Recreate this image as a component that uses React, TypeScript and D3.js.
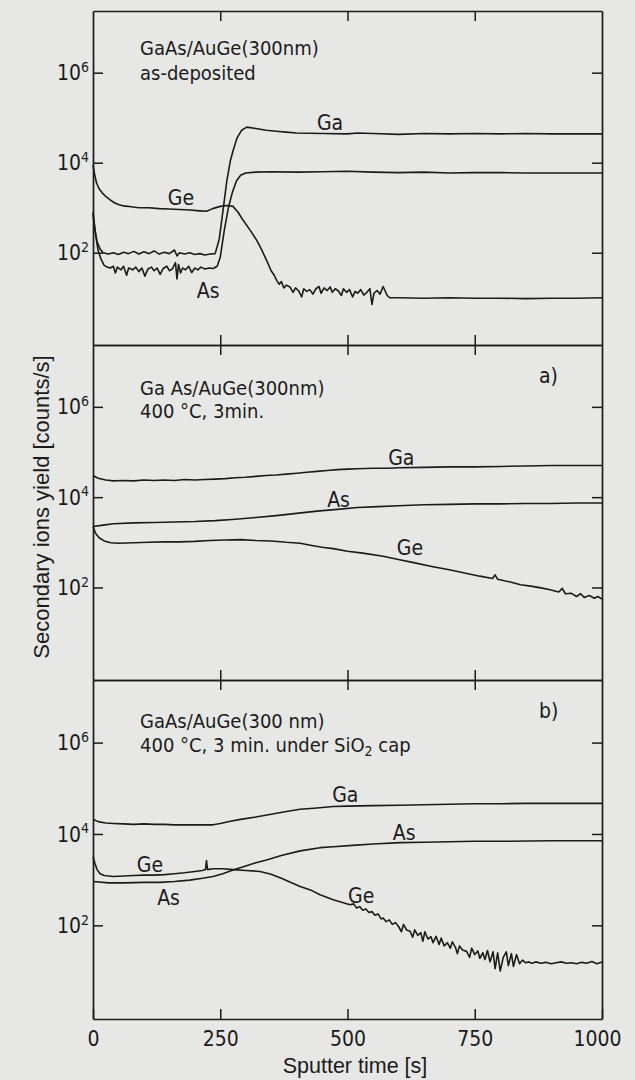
import React, {useEffect, useRef} from 'react';
import * as d3 from 'd3';

// sputter time [s] vs log10(counts/s)
const gaDep = [
  [0, 2.85], [4, 2.5], [8, 2.25], [14, 2.08], [20, 2.0], [30, 1.97], [40, 2.0], [50, 1.96], [60, 2.01],
  [70, 1.98], [80, 2.03], [90, 1.97], [100, 2.02], [110, 1.98], [120, 2.04], [130, 1.97], [140, 2.01],
  [150, 1.98], [160, 2.06], [165, 1.93], [170, 2.0], [180, 1.97], [190, 2.0], [200, 1.96], [210, 1.98],
  [220, 1.95], [230, 1.97], [240, 1.98], [248, 2.3], [255, 2.9], [263, 3.6], [270, 4.05], [276, 4.3],
  [283, 4.55], [292, 4.72], [302, 4.79], [320, 4.76], [340, 4.72], [360, 4.7], [380, 4.68], [400, 4.66],
  [450, 4.65], [500, 4.64], [520, 4.66], [550, 4.65], [600, 4.63], [650, 4.65], [700, 4.64], [750, 4.65],
  [800, 4.64], [850, 4.65], [900, 4.64], [950, 4.64], [1000, 4.64]
];
const asDep = [
  [0, 2.9], [5, 2.4], [10, 2.05], [16, 1.85], [22, 1.72], [28, 1.68], [34, 1.66], [40, 1.7], [44, 1.55],
  [48, 1.68], [55, 1.62], [60, 1.7], [66, 1.5], [70, 1.66], [78, 1.62], [84, 1.68], [90, 1.58], [96, 1.66],
  [102, 1.48], [108, 1.64], [115, 1.68], [120, 1.6], [126, 1.66], [132, 1.52], [138, 1.65], [145, 1.7],
  [150, 1.6], [156, 1.64], [162, 1.78], [165, 1.42], [168, 1.74], [172, 1.55], [176, 1.66], [182, 1.62],
  [188, 1.7], [194, 1.56], [200, 1.66], [206, 1.62], [212, 1.68], [220, 1.64], [228, 1.66], [236, 1.65],
  [244, 1.7], [250, 1.9], [258, 2.5], [266, 3.0], [274, 3.35], [282, 3.6], [290, 3.72], [300, 3.77],
  [320, 3.79], [350, 3.8], [400, 3.79], [450, 3.8], [500, 3.81], [550, 3.79], [600, 3.78], [650, 3.79],
  [700, 3.77], [750, 3.78], [800, 3.78], [850, 3.77], [900, 3.77], [950, 3.77], [1000, 3.77]
];
const geDep = [
  [0, 3.95], [3, 3.75], [7, 3.55], [12, 3.42], [18, 3.33], [25, 3.25], [33, 3.18], [42, 3.11], [50, 3.07],
  [60, 3.04], [75, 3.02], [90, 3.0], [110, 3.0], [130, 2.98], [150, 2.97], [170, 2.96], [190, 2.95],
  [210, 2.93], [223, 2.92], [235, 2.98], [250, 3.03], [263, 3.05], [275, 3.03], [285, 2.9], [295, 2.72],
  [310, 2.48], [322, 2.27], [332, 2.05], [341, 1.83], [350, 1.6], [356, 1.5], [361, 1.38], [366, 1.3],
  [370, 1.36], [375, 1.22], [380, 1.28], [387, 1.24], [393, 1.12], [398, 1.22], [404, 1.15], [410, 1.02],
  [414, 1.2], [420, 1.14], [426, 1.18], [432, 1.08], [438, 1.2], [444, 1.25], [448, 1.1], [454, 1.22],
  [460, 1.16], [466, 1.24], [470, 1.12], [476, 1.2], [482, 1.15], [488, 1.05], [492, 1.2], [498, 1.12],
  [504, 1.18], [510, 1.02], [515, 1.14], [520, 1.1], [526, 1.18], [532, 1.06], [538, 1.12], [544, 1.2],
  [548, 0.85], [552, 1.1], [558, 1.16], [564, 1.08], [570, 1.25], [574, 1.15], [578, 1.05], [583, 1.0],
  [600, 1.0], [650, 0.99], [700, 1.0], [750, 0.99], [800, 0.99], [850, 0.98], [900, 0.99], [950, 0.99],
  [1000, 1.0]
];

const gaAnn = [
  [0, 4.48], [10, 4.42], [25, 4.38], [40, 4.36], [60, 4.37], [80, 4.36], [100, 4.38], [120, 4.37],
  [140, 4.38], [160, 4.37], [180, 4.39], [200, 4.38], [220, 4.39], [240, 4.4], [260, 4.41], [280, 4.43],
  [300, 4.44], [320, 4.46], [340, 4.48], [360, 4.49], [380, 4.51], [400, 4.53], [420, 4.55], [440, 4.57],
  [460, 4.59], [480, 4.61], [500, 4.62], [520, 4.63], [550, 4.64], [580, 4.64], [600, 4.65], [650, 4.66],
  [700, 4.67], [750, 4.67], [800, 4.68], [850, 4.69], [900, 4.7], [950, 4.7], [1000, 4.7]
];
const asAnn = [
  [0, 3.35], [20, 3.38], [40, 3.41], [80, 3.43], [120, 3.44], [160, 3.45], [200, 3.46], [240, 3.48],
  [280, 3.51], [320, 3.55], [360, 3.59], [400, 3.64], [440, 3.69], [480, 3.73], [520, 3.77], [560, 3.79],
  [600, 3.81], [650, 3.83], [700, 3.84], [750, 3.85], [800, 3.85], [850, 3.86], [900, 3.86], [950, 3.87],
  [1000, 3.87]
];
const geAnn = [
  [0, 3.35], [5, 3.2], [12, 3.1], [22, 3.03], [35, 2.99], [50, 2.98], [80, 2.99], [110, 3.0], [140, 3.01],
  [170, 3.01], [200, 3.02], [230, 3.04], [260, 3.05], [290, 3.06], [320, 3.04], [350, 3.03], [380, 3.0],
  [407, 2.98], [430, 2.93], [450, 2.89], [472, 2.86], [500, 2.8], [530, 2.76], [570, 2.69], [600, 2.62],
  [630, 2.55], [668, 2.46], [700, 2.39], [730, 2.32], [760, 2.25], [785, 2.2], [790, 2.28], [795, 2.18],
  [820, 2.12], [840, 2.06], [860, 2.03], [880, 1.99], [898, 1.95], [915, 1.9], [922, 1.98], [928, 1.86],
  [940, 1.87], [950, 1.8], [958, 1.86], [965, 1.78], [975, 1.82], [985, 1.76], [992, 1.8], [1000, 1.74]
];

const gaCap = [
  [0, 4.32], [10, 4.27], [25, 4.24], [40, 4.23], [60, 4.22], [80, 4.21], [100, 4.22], [120, 4.21],
  [140, 4.21], [160, 4.2], [180, 4.2], [200, 4.2], [220, 4.2], [236, 4.2], [250, 4.23], [270, 4.28],
  [290, 4.32], [320, 4.37], [350, 4.43], [380, 4.49], [407, 4.54], [440, 4.57], [472, 4.6], [500, 4.61],
  [550, 4.62], [603, 4.63], [650, 4.64], [700, 4.65], [750, 4.66], [800, 4.66], [850, 4.67], [900, 4.67],
  [950, 4.67], [1000, 4.67]
];
const asCap = [
  [0, 2.96], [30, 2.93], [60, 2.93], [100, 2.94], [131, 2.94], [160, 2.96], [190, 2.99], [215, 3.03],
  [236, 3.07], [255, 3.13], [275, 3.21], [300, 3.3], [320, 3.37], [341, 3.43], [370, 3.53], [407, 3.63],
  [446, 3.7], [472, 3.72], [510, 3.75], [550, 3.78], [603, 3.81], [650, 3.82], [700, 3.83], [750, 3.84],
  [800, 3.84], [900, 3.85], [1000, 3.85]
];
const geCap = [
  [0, 3.5], [4, 3.35], [8, 3.22], [14, 3.13], [22, 3.09], [40, 3.07], [60, 3.08], [80, 3.09], [100, 3.1],
  [120, 3.1], [140, 3.11], [160, 3.13], [180, 3.15], [200, 3.18], [215, 3.2], [221, 3.22], [223, 3.42],
  [225, 3.22], [236, 3.24], [255, 3.24], [275, 3.22], [300, 3.2], [328, 3.18], [350, 3.12], [370, 3.03],
  [390, 2.93], [407, 2.85], [430, 2.76], [446, 2.67], [472, 2.56], [490, 2.5], [505, 2.45], [512, 2.47],
  [518, 2.38], [524, 2.41], [530, 2.33], [536, 2.36], [542, 2.28], [548, 2.3], [554, 2.22], [560, 2.25],
  [566, 2.14], [570, 2.16], [576, 2.08], [582, 2.12], [588, 2.02], [594, 2.06], [600, 1.98], [606, 1.86],
  [610, 2.02], [616, 1.9], [623, 1.87], [628, 1.74], [632, 1.9], [638, 1.78], [644, 1.84], [648, 1.65],
  [652, 1.86], [658, 1.7], [664, 1.75], [668, 1.62], [674, 1.76], [680, 1.58], [684, 1.72], [690, 1.55],
  [696, 1.62], [702, 1.5], [706, 1.64], [712, 1.52], [716, 1.38], [720, 1.55], [726, 1.46], [734, 1.43],
  [740, 1.3], [744, 1.5], [750, 1.36], [756, 1.44], [760, 1.28], [766, 1.4], [770, 1.25], [775, 1.45],
  [780, 1.2], [786, 1.42], [790, 1.05], [795, 1.4], [800, 1.0], [806, 1.3], [812, 1.42], [816, 1.12],
  [822, 1.38], [826, 1.1], [832, 1.36], [838, 1.16], [844, 1.24], [850, 1.18], [856, 1.2], [862, 1.17],
  [870, 1.2], [880, 1.17], [890, 1.19], [900, 1.16], [910, 1.18], [920, 1.2], [930, 1.17], [940, 1.18],
  [950, 1.16], [960, 1.19], [970, 1.17], [980, 1.21], [990, 1.16], [1000, 1.2]
];

const xTicks = [0, 250, 500, 750, 1000];
const yTickExps = [2, 4, 6];

// one entry per panel: curves, curve labels [text, t, exp], caption lines, panel letter
const panelSeries = [[gaDep, asDep, geDep], [gaAnn, asAnn, geAnn], [gaCap, asCap, geCap]];
const panelLabels = [
  [['Ga', 440, 4.72], ['Ge', 147, 3.07], ['As', 204, 0.99]],
  [['Ga', 580, 4.71], ['As', 460, 3.78], ['Ge', 597, 2.72]],
  [['Ga', 470, 4.7], ['As', 589, 3.87], ['Ge', 501, 2.49], ['Ge', 86, 3.17], ['As', 126, 2.45]]
];
const panelCaptions = [
  ['GaAs/AuGe(300nm)', 'as-deposited'],
  ['Ga As/AuGe(300nm)', '400 °C, 3min.'],
  ['GaAs/AuGe(300 nm)', '400 °C, 3 min. under SiO|2| cap']
];
const panelLetters = ['', 'a)', 'b)'];

const W = 635;
const H = 1080;
const left = 93;
const right = 602;
const tops = [11, 345, 680];
const bottoms = [345, 680, 1019];
const captionY = [[55, 80], [395, 418], [728, 752]];
const ink = '#1b1b1b';
const dinFont = '"DejaVu Sans Condensed", "DejaVu Sans", sans-serif';
const plainFont = '"Liberation Sans", Arial, sans-serif';

function App() {
  const ref = useRef(null);

  useEffect(() => {
    const svg = d3.select(ref.current);
    svg.selectAll('*').remove();

    svg.append('rect').attr('width', W).attr('height', H).attr('fill', '#e7e7e5');

    const x = d3.scaleLinear().domain([0, 1000]).range([left, right]);

    panelSeries.forEach((series, i) => {
      const y = d3.scaleLog()
        .domain([Math.pow(10, -0.05), Math.pow(10, 7.37)])
        .range([bottoms[i], tops[i]]);
      const g = svg.append('g');

      const axes = [
        {ax: d3.axisBottom(x).tickValues(i === 2 ? xTicks : [250, 500, 750]), tr: `translate(0,${bottoms[i]})`},
        {ax: d3.axisTop(x).tickValues([250, 500, 750]).tickFormat(() => ''), tr: `translate(0,${tops[i]})`},
        {ax: d3.axisLeft(y).tickValues(yTickExps.map(e => Math.pow(10, e))), tr: `translate(${left},0)`},
        {ax: d3.axisRight(y).tickValues(yTickExps.map(e => Math.pow(10, e))).tickFormat(() => ''), tr: `translate(${right},0)`}
      ];
      axes.forEach(({ax, tr}, k) => {
        ax.tickSizeInner(-10).tickSizeOuter(0);
        if (k === 0) ax.tickPadding(12).tickFormat(i === 2 ? d3.format('d') : () => '');
        if (k === 2) ax.tickFormat(() => '');
        const a = g.append('g').attr('transform', tr).call(ax as any);
        a.select('.domain').attr('stroke', ink).attr('stroke-width', 1.7);
        a.selectAll('.tick line').attr('stroke', ink).attr('stroke-width', 1.5);
        a.selectAll('text').attr('fill', ink).attr('font-family', dinFont).attr('font-size', 21);
        if (k === 0 && i === 2) {
          a.selectAll('.tick text').filter((d: any) => d === 1000).attr('dx', -5);
        }
      });

      // left tick labels as 10^n
      yTickExps.forEach(e => {
        const t = g.append('text')
          .attr('x', left - 4)
          .attr('y', y(Math.pow(10, e)))
          .attr('dy', '0.36em')
          .attr('text-anchor', 'end')
          .attr('font-family', dinFont)
          .attr('font-size', 21)
          .attr('fill', ink);
        t.append('tspan').text('10');
        t.append('tspan').attr('font-size', 14).attr('dy', '-0.6em').text(String(e));
      });

      const line = d3.line()
        .x((d: any) => x(d[0]))
        .y((d: any) => y(Math.pow(10, d[1])));

      series.forEach(s => {
        g.append('path')
          .datum(s)
          .attr('d', line as any)
          .attr('fill', 'none')
          .attr('stroke', ink)
          .attr('stroke-width', 1.6)
          .attr('stroke-linejoin', 'round');
      });

      panelLabels[i].forEach(([txt, t, e]: any) => {
        g.append('text')
          .attr('x', x(t))
          .attr('y', y(Math.pow(10, e)))
          .attr('font-family', dinFont)
          .attr('font-size', 21)
          .attr('fill', ink)
          .text(txt);
      });

      panelCaptions[i].forEach((cap, j) => {
        const t = g.append('text')
          .attr('x', 140)
          .attr('y', captionY[i][j])
          .attr('font-family', dinFont)
          .attr('font-size', 20)
          .attr('fill', ink);
        cap.split('|').forEach((part, p) => {
          if (p % 2 === 1) {
            t.append('tspan').attr('font-size', 14).attr('dy', '0.3em').text(part);
          } else {
            t.append('tspan').attr('dy', p > 0 ? '-0.21em' : null).text(part);
          }
        });
      });

      if (panelLetters[i]) {
        g.append('text')
          .attr('x', 539)
          .attr('y', tops[i] + 38)
          .attr('font-family', dinFont)
          .attr('font-size', 21)
          .attr('fill', ink)
          .text(panelLetters[i]);
      }
    });

    svg.append('text')
      .attr('transform', 'translate(41,507) rotate(-90)')
      .attr('text-anchor', 'middle')
      .attr('dy', '0.35em')
      .attr('font-family', plainFont)
      .attr('font-size', 22)
      .attr('fill', ink)
      .text('Secondary ions yield [counts/s]');

    svg.append('text')
      .attr('x', 355)
      .attr('y', 1073)
      .attr('text-anchor', 'middle')
      .attr('font-family', plainFont)
      .attr('font-size', 21.5)
      .attr('fill', ink)
      .text('Sputter time [s]');
  });

  return (
    <svg ref={ref} width={W} height={H} style={{position: 'absolute', left: 0, top: 0}}/>
  );
}

export default App;
